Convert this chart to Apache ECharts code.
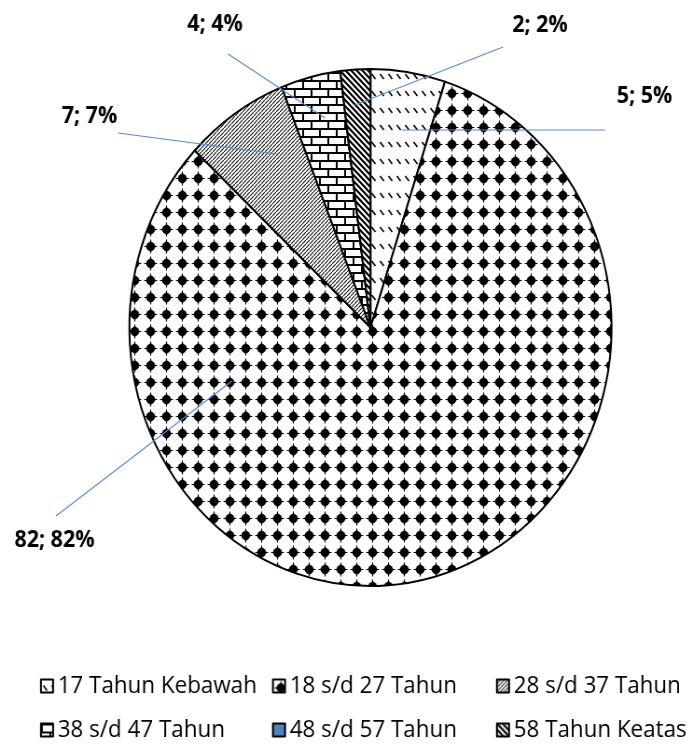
<!DOCTYPE html>
<html>
<head>
<meta charset="utf-8">
<script src="https://cdn.jsdelivr.net/npm/echarts@6/dist/echarts.min.js"></script>
<style>
  html, body { margin: 0; padding: 0; background: #fff; overflow: hidden; }
  #wrap { width: 693px; height: 749px; overflow: hidden; }
  #chart { width: 743px; height: 749px; transform: scaleX(0.9327); transform-origin: 0 0; }
</style>
</head>
<body>
<div id="wrap"><div id="chart"></div></div>
<script>
// ---- data ----
const categories = ['17 Tahun Kebawah', '18 s/d 27 Tahun', '28 s/d 37 Tahun', '38 s/d 47 Tahun', '48 s/d 57 Tahun', '58 Tahun Keatas'];
const values = [5, 82, 7, 4, 0, 2];
const legendCol1 = ['17 Tahun Kebawah', '38 s/d 47 Tahun'];
const legendCol2 = ['18 s/d 27 Tahun', '48 s/d 57 Tahun'];
const legendCol3 = ['28 s/d 37 Tahun', '58 Tahun Keatas'];

// ---- layout (screen pixels of the reference) ----
const S = 0.9327; // horizontal squeeze of the whole picture
const LABEL_POS = {
  '17 Tahun Kebawah': { label: [644.5, 96.5], from: [402, 130], to: [605, 130] },
  '18 s/d 27 Tahun':  { label: [54.5, 540],   from: [232, 381], to: [56, 516] },
  '28 s/d 37 Tahun':  { label: [89.5, 116.5], from: [277, 154], to: [118, 133] },
  '38 s/d 47 Tahun':  { label: [215, 24.5],   from: [325, 118], to: [228, 54] },
  '58 Tahun Keatas':  { label: [540, 25.5],   from: [355, 105], to: [503, 47] }
};
const LEGEND_X = [40, 272, 496];

// ---- pattern fills ----
function tile(w, h, draw) {
  const c = document.createElement('canvas');
  c.width = w; c.height = h;
  const g = c.getContext('2d');
  g.fillStyle = '#fff'; g.fillRect(0, 0, w, h);
  g.strokeStyle = '#000'; g.fillStyle = '#000';
  draw(g, w, h);
  return { image: c, repeat: 'repeat' };
}
const patDashes = tile(9, 17, (g) => {
  g.lineWidth = 1.6;
  g.beginPath(); g.moveTo(2.5, 6); g.lineTo(6.5, 11); g.stroke();
});
const patDots = tile(17, 17, (g) => {
  g.beginPath(); g.arc(8.5, 8.5, 4.6, 0, Math.PI * 2); g.fill();
  g.beginPath();
  g.moveTo(8.5, 2.8); g.lineTo(14.2, 8.5); g.lineTo(8.5, 14.2); g.lineTo(2.8, 8.5); g.closePath(); g.fill();
  g.lineWidth = 1.1;
  g.beginPath();
  g.moveTo(1.6, 8.5); g.lineTo(15.4, 8.5);
  g.moveTo(8.5, 1.6); g.lineTo(8.5, 15.4);
  g.stroke();
});
const patHatch = tile(4, 4, (g) => {
  g.lineWidth = 1.1;
  g.strokeStyle = '#111';
  g.beginPath();
  g.moveTo(-1, 5); g.lineTo(5, -1);
  g.stroke();
});
const patBrick = tile(18, 16, (g) => {
  g.lineWidth = 2;
  g.beginPath();
  g.moveTo(0, 1); g.lineTo(18, 1);
  g.moveTo(0, 9); g.lineTo(18, 9);
  g.moveTo(1, 1); g.lineTo(1, 9);
  g.moveTo(10, 9); g.lineTo(10, 17);
  g.stroke();
});
const patStripes = tile(6, 6, (g) => {
  g.lineWidth = 2.2;
  g.beginPath();
  g.moveTo(-1, -1); g.lineTo(7, 7);
  g.moveTo(-1, 5); g.lineTo(1, 7);
  g.moveTo(5, -1); g.lineTo(7, 1);
  g.stroke();
});
const fills = [patDashes, patDots, patHatch, patBrick, '#4F81BD', patStripes];

const pieData = categories.map((name, i) => ({
  name: name,
  value: values[i],
  itemStyle: { color: fills[i] }
}));
const labelData = categories.map((name, i) => ({ name: name, value: values[i] }));

const chart = echarts.init(document.getElementById('chart'), null, { renderer: 'canvas' });

function legendCol(x, names) {
  return {
    orient: 'vertical',
    left: x / S,
    top: 674,
    padding: 0,
    itemWidth: 13,
    itemHeight: 13,
    itemGap: 20,
    icon: 'rect',
    selectedMode: false,
    itemStyle: { borderColor: '#000', borderWidth: 2 },
    textStyle: { fontFamily: 'Open Sans', fontSize: 24, lineHeight: 24, color: '#000' },
    data: names
  };
}

chart.setOption({
  animation: false,
  backgroundColor: '#fff',
  legend: [
    legendCol(LEGEND_X[0], legendCol1),
    legendCol(LEGEND_X[1], legendCol2),
    legendCol(LEGEND_X[2], legendCol3)
  ],
  series: [{
    type: 'pie',
    z: 2,
    center: [397.2, 327.5],
    radius: [0, 258.5],
    startAngle: 90,
    clockwise: true,
    itemStyle: { borderColor: '#000', borderWidth: 2 },
    emphasis: { disabled: true },
    label: { show: false },
    labelLine: { show: false },
    data: pieData
  }, {
    type: 'pie',
    z: 5,
    silent: true,
    legendHoverLink: false,
    center: [397.2, 327.5],
    radius: [0, 258.5],
    startAngle: 90,
    clockwise: true,
    avoidLabelOverlap: false,
    minShowLabelAngle: 0.5,
    itemStyle: { color: 'rgba(0,0,0,0)', borderWidth: 0 },
    emphasis: { disabled: true },
    label: {
      show: true,
      position: 'outside',
      formatter: '{c}; {d}%',
      fontFamily: 'Open Sans',
      fontWeight: 'bold',
      fontSize: 23,
      color: '#000'
    },
    labelLine: {
      show: true,
      lineStyle: { color: '#5B89CF', width: 1.2 }
    },
    labelLayout: function (p) {
      const pos = LABEL_POS[categories[p.dataIndex]];
      if (!pos) return {};
      return {
        x: pos.label[0] / S,
        y: pos.label[1],
        align: 'center',
        verticalAlign: 'middle',
        labelLinePoints: [
          [pos.from[0] / S, pos.from[1]],
          [pos.to[0] / S, pos.to[1]],
          [pos.to[0] / S, pos.to[1]]
        ]
      };
    },
    data: labelData
  }]
});
</script>
</body>
</html>
